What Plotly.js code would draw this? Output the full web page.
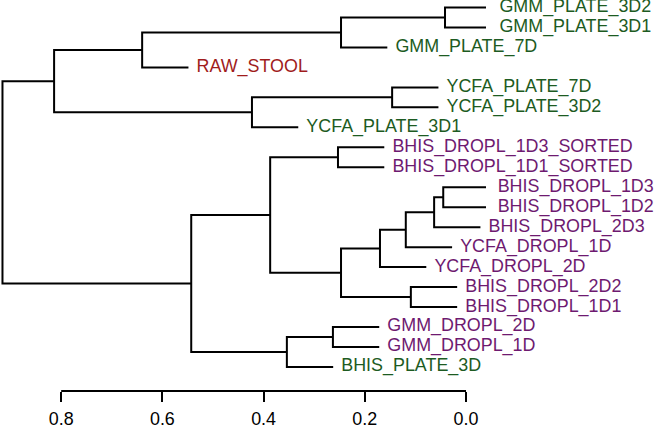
<!DOCTYPE html>
<html><head><meta charset="utf-8">
<script src="https://cdn.plot.ly/plotly-3.0.1.min.js"></script>
<style>html,body{margin:0;padding:0;background:#fff;}#chart{width:654px;height:430px;}</style>
</head><body><div id="chart"></div>
<script>
// Leaves in display order (top to bottom)
const leafLabels = [
  'GMM_PLATE_3D2','GMM_PLATE_3D1','GMM_PLATE_7D','RAW_STOOL',
  'YCFA_PLATE_7D','YCFA_PLATE_3D2','YCFA_PLATE_3D1',
  'BHIS_DROPL_1D3_SORTED','BHIS_DROPL_1D1_SORTED',
  'BHIS_DROPL_1D3','BHIS_DROPL_1D2','BHIS_DROPL_2D3',
  'YCFA_DROPL_1D','YCFA_DROPL_2D','BHIS_DROPL_2D2','BHIS_DROPL_1D1',
  'GMM_DROPL_2D','GMM_DROPL_1D','BHIS_PLATE_3D'
];
const leafGroups = [
  'plate','plate','plate','raw',
  'plate','plate','plate',
  'dropl','dropl',
  'dropl','dropl','dropl',
  'dropl','dropl','dropl','dropl',
  'dropl','dropl','plate'
];
// merges (negative = leaf number, positive = earlier merge number)
const mergeLeft   = [-1, -10, 2, -15, 3, -5, 5, 1, 7, -8, -17, 11, 10, 6, 13, 8, 16, 17];
const mergeRight  = [-2, -11, -12, -16, -13, -6, -14, -3, 4, -9, -18, -19, 9, -7, 12, -4, 14, 15];
const mergeHeights = [0.0415, 0.045, 0.063, 0.109, 0.119, 0.146, 0.170, 0.247, 0.247, 0.253, 0.263, 0.354, 0.387, 0.423, 0.543, 0.640, 0.814, 0.916];
const hang = 0.0915;
const tickVals = [0.8, 0.6, 0.4, 0.2, 0.0];
const tickText = ['0.8', '0.6', '0.4', '0.2', '0.0'];

const groupColors = {plate: '#1d5b22', raw: '#a01c1c', dropl: '#6e1a70'};
const FONT = '"Liberation Sans", Arial, sans-serif';
const FS = 17.9;

const nodeY = [];
const leafX = new Array(leafLabels.length);
const lx = [], ly = [];
function child(c, h) {
  if (c < 0) {
    const i = -c;
    const x = h - hang;
    leafX[i - 1] = x;
    return {x: x, y: i};
  }
  return {x: mergeHeights[c - 1], y: nodeY[c - 1]};
}
for (let k = 0; k < mergeHeights.length; k++) {
  const h = mergeHeights[k];
  const a = child(mergeLeft[k], h);
  const b = child(mergeRight[k], h);
  nodeY.push((a.y + b.y) / 2);
  lx.push(a.x, h, h, b.x, null);
  ly.push(a.y, a.y, b.y, b.y, null);
}

// same scale on both x axes: plot region over 486px, labels axis over full 654px
const W = 654, plotW = 486;
const xLeft = 0.9209, xRightPlot = -0.0395;
const xRightFull = xLeft - (xLeft - xRightPlot) * W / plotW;

const labelGap = 0.016;
const traces = [
  {type: 'scatter', mode: 'lines', x: lx, y: ly, xaxis: 'x', yaxis: 'y', hoverinfo: 'skip',
   line: {color: '#000', width: 2}, showlegend: false},
  {type: 'scatter', mode: 'text', xaxis: 'x2', yaxis: 'y',
   x: leafX.map(v => v - labelGap), y: leafLabels.map((_, i) => i + 1),
   text: leafLabels, textposition: 'middle right', cliponaxis: false,
   textfont: {family: FONT, size: FS, color: leafGroups.map(g => groupColors[g])},
   hoverinfo: 'skip', showlegend: false}
];

const layout = {
  width: W, height: 430,
  margin: {l: 0, r: 0, t: 0, b: 39},
  paper_bgcolor: '#fff', plot_bgcolor: 'rgba(0,0,0,0)',
  font: {family: FONT, size: FS, color: '#000'},
  xaxis: {domain: [0, plotW / W], range: [xLeft, xRightPlot], tickvals: tickVals, ticktext: tickText,
    ticks: 'outside', ticklen: 10, tickwidth: 2, tickcolor: '#000', ticklabelstandoff: 2,
    showline: false, showgrid: false, zeroline: false,
    tickfont: {family: FONT, size: FS, color: '#000'}, fixedrange: true},
  xaxis2: {domain: [0, 1], range: [xLeft, xRightFull], anchor: 'y', visible: false,
    showgrid: false, zeroline: false, fixedrange: true},
  yaxis: {range: [20.204, 0.6244], visible: false, showgrid: false, zeroline: false, fixedrange: true},
  shapes: [{type: 'line', xref: 'x', yref: 'paper',
    x0: Math.max(...tickVals), x1: Math.min(...tickVals), y0: 0, y1: 0,
    line: {color: '#000', width: 2}}],
  showlegend: false
};
Plotly.newPlot('chart', traces, layout, {staticPlot: true, displayModeBar: false});
</script>
</body></html>
